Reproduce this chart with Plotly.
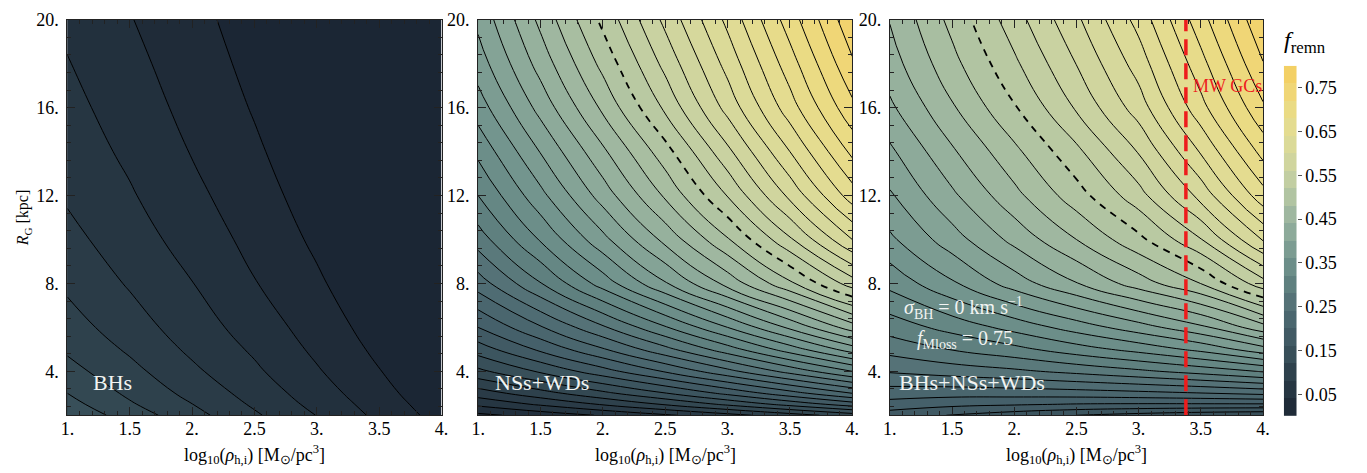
import numpy as np
import plotly.graph_objects as go

# Grid: initial half-mass density (log10, Msun/pc^3) and galactocentric radius (kpc)
LOG_RHO = [1.0, 1.5, 2.0, 2.5, 3.0, 3.5, 4.0]
R_GAL = [2, 2.5, 3, 4, 5, 6, 8, 10, 12, 14, 16, 18, 20]

# Remnant mass fraction held in black holes (rows follow R_GAL, columns LOG_RHO)
F_BH = [
    [0.155, 0.131, 0.107, 0.083, 0.0595, 0.035, 0.0121],
    [0.147, 0.1225, 0.1003, 0.077, 0.054, 0.031, 0.0083],
    [0.140, 0.116, 0.094, 0.072, 0.0495, 0.027, 0.0051],
    [0.127, 0.106, 0.084, 0.0635, 0.042, 0.0208, 0.002],
    [0.117, 0.097, 0.076, 0.057, 0.036, 0.0156, 0.002],
    [0.109, 0.089, 0.070, 0.051, 0.031, 0.0113, 0.002],
    [0.096, 0.078, 0.0605, 0.041, 0.023, 0.0043, 0.002],
    [0.086, 0.069, 0.052, 0.034, 0.0164, 0.002, 0.002],
    [0.0775, 0.062, 0.045, 0.028, 0.0111, 0.002, 0.002],
    [0.071, 0.056, 0.039, 0.023, 0.0065, 0.002, 0.002],
    [0.066, 0.0505, 0.034, 0.0185, 0.0027, 0.002, 0.002],
    [0.061, 0.0455, 0.030, 0.0145, 0.002, 0.002, 0.002],
    [0.056, 0.041, 0.026, 0.0110, 0.002, 0.002, 0.002],
]

# Remnant mass fraction held in neutron stars + white dwarfs
F_NSWD = [
    [0.035, 0.048, 0.062, 0.077, 0.093, 0.111, 0.130],
    [0.065, 0.083, 0.102, 0.122, 0.144, 0.167, 0.190],
    [0.090, 0.112, 0.135, 0.159, 0.185, 0.212, 0.240],
    [0.135, 0.163, 0.192, 0.222, 0.254, 0.287, 0.320],
    [0.170, 0.204, 0.238, 0.274, 0.311, 0.350, 0.390],
    [0.200, 0.238, 0.277, 0.318, 0.360, 0.404, 0.450],
    [0.250, 0.299, 0.349, 0.398, 0.447, 0.496, 0.550],
    [0.290, 0.342, 0.394, 0.446, 0.498, 0.557, 0.620],
    [0.320, 0.374, 0.429, 0.483, 0.541, 0.605, 0.670],
    [0.345, 0.401, 0.456, 0.512, 0.575, 0.640, 0.705],
    [0.370, 0.427, 0.484, 0.544, 0.607, 0.671, 0.735],
    [0.390, 0.448, 0.506, 0.566, 0.627, 0.691, 0.757],
    [0.405, 0.465, 0.525, 0.585, 0.645, 0.710, 0.775],
]

# All remnants together
F_ALL = (np.array(F_BH) + np.array(F_NSWD)).round(4).tolist()

LEVEL_STEP = 0.02
LEVEL_DASHED = 0.52
MW_GC_LOG_RHO = 3.38

X_TICKS = [1, 1.5, 2, 2.5, 3, 3.5, 4]
X_TICK_TEXT = ["1.", "1.5", "2.", "2.5", "3.", "3.5", "4."]
Y_TICKS = [4, 8, 12, 16, 20]
Y_TICK_TEXT = ["4.", "8.", "12.", "16.", "20."]
CBAR_TICKS = [0.05, 0.15, 0.25, 0.35, 0.45, 0.55, 0.65, 0.75]
CBAR_TICK_TEXT = ["0.05", "0.15", "0.25", "0.35", "0.45", "0.55", "0.65", "0.75"]
CBAR_BANDS = [0.02, 0.06, 0.10, 0.14, 0.18, 0.22, 0.26, 0.30, 0.34, 0.38,
              0.42, 0.46, 0.50, 0.54, 0.58, 0.62, 0.66, 0.70, 0.74, 0.78]

CSCALE = [
    [0.0, "#1b2634"], [0.0625, "#24333f"], [0.125, "#2e414c"],
    [0.1875, "#3a525c"], [0.25, "#45606a"], [0.3125, "#526f75"],
    [0.375, "#5f807f"], [0.4375, "#6f918c"], [0.5, "#84a396"],
    [0.5625, "#9ab49f"], [0.625, "#b1c4a2"], [0.6875, "#c6d0a2"],
    [0.75, "#d6d89c"], [0.8125, "#e2dc93"], [0.875, "#eadb84"],
    [0.9375, "#f1d572"], [1.0, "#f4cd5c"],
]

FONT = "Liberation Serif"
W, H = 1367, 473

# panel placement in pixels: (left, right)
PANELS_PX = [(61, 439), (476, 854), (892, 1269)]
TOP_PX, BOTTOM_PX = 10, 414

fig = go.Figure()


def fill_trace(z, ax):
    return go.Contour(
        x=LOG_RHO, y=R_GAL, z=z, xaxis="x" + ax, yaxis="y" + ax,
        colorscale=CSCALE, showscale=False, autocontour=False,
        contours=dict(start=LEVEL_STEP, end=0.80, size=LEVEL_STEP,
                      coloring="fill", showlines=False),
        line=dict(width=0, smoothing=1.3), hoverinfo="skip",
    )


def line_trace(z, ax, start, end, dash="solid", width=1.0):
    return go.Contour(
        x=LOG_RHO, y=R_GAL, z=z, xaxis="x" + ax, yaxis="y" + ax,
        showscale=False, autocontour=False,
        contours=dict(start=start, end=end, size=LEVEL_STEP, coloring="none"),
        line=dict(color="black", width=width, dash=dash, smoothing=1.3),
        hoverinfo="skip",
    )


# Panel 1: black holes
fig.add_trace(fill_trace(F_BH, ""))
fig.add_trace(line_trace(F_BH, "", 0.02, 0.14))

# Panels 2 and 3: solid levels, with the 0.52 level drawn dashed
for z, ax in [(F_NSWD, "2"), (F_ALL, "3")]:
    fig.add_trace(fill_trace(z, ax))
    fig.add_trace(line_trace(z, ax, 0.02, 0.50))
    fig.add_trace(line_trace(z, ax, 0.54, 0.78))
    fig.add_trace(line_trace(z, ax, LEVEL_DASHED, LEVEL_DASHED,
                             dash="7px,6px", width=1.8))

# Discrete colour bar drawn as a one-column heatmap
fig.add_trace(go.Heatmap(
    x=[0], y=CBAR_BANDS, z=[[b] for b in CBAR_BANDS],
    colorscale=CSCALE, zmin=0, zmax=0.8, showscale=False,
    xaxis="x4", yaxis="y4", hoverinfo="skip",
))

axis_common = dict(
    showline=True, linecolor="#222", linewidth=1, mirror="allticks",
    ticks="inside", ticklen=8, tickwidth=1, tickcolor="#222",
    showgrid=False, zeroline=False,
    tickfont=dict(family=FONT, size=18, color="black"),
)

layout = dict(
    width=W, height=H, margin=dict(l=0, r=0, t=0, b=0),
    paper_bgcolor="white", plot_bgcolor="white", showlegend=False,
    font=dict(family=FONT, color="black"),
)

ydom = [1 - BOTTOM_PX / H, 1 - TOP_PX / H]
for i, (l, r) in enumerate(PANELS_PX):
    sfx = "" if i == 0 else str(i + 1)
    layout["xaxis" + sfx] = dict(
        axis_common, domain=[l / W, r / W], range=[1, 4],
        tickvals=X_TICKS, ticktext=X_TICK_TEXT, ticklabelstandoff=-3,
        minor=dict(dtick=0.1, tick0=0, ticklen=4, ticks="inside",
                   tickcolor="#222"),
        anchor="y" + sfx,
    )
    layout["yaxis" + sfx] = dict(
        axis_common, domain=ydom, range=[2, 20],
        tickvals=Y_TICKS, ticktext=Y_TICK_TEXT, ticklabelstandoff=4,
        minor=dict(dtick=0.8, tick0=0, ticklen=4, ticks="inside",
                   tickcolor="#222"),
        anchor="x" + sfx,
    )

layout["xaxis4"] = dict(domain=[1290 / W, 1303 / W], range=[-0.5, 0.5],
                        visible=False, anchor="y4")
layout["yaxis4"] = dict(
    domain=[1 - 415 / H, 1 - 57 / H], range=[0, 0.8], anchor="x4",
    side="right", showgrid=False, zeroline=False, showline=False,
    ticks="outside", ticklen=4, tickcolor="#555",
    tickvals=CBAR_TICKS, ticktext=CBAR_TICK_TEXT,
    tickfont=dict(family=FONT, size=18, color="black"),
)

fig.update_layout(**layout)

# Milky Way globular cluster density marker
fig.add_shape(type="line", xref="x3", yref="y3",
              x0=MW_GC_LOG_RHO, x1=MW_GC_LOG_RHO, y0=2, y1=20,
              line=dict(color="#ee1c1c", width=3.5, dash="16px,8px"))

label_font = dict(family=FONT, size=22, color="#f2f4f2")
note_font = dict(family=FONT, size=20, color="#f2f4f2")
xtitle = "log<sub>10</sub>(<i>ρ</i><sub>h,i</sub>) [M<sub>⊙</sub>/pc<sup>3</sup>]"

annotations = [
    dict(x=1.19, y=3.5, xref="x", yref="y", text="BHs", showarrow=False,
         xanchor="left", yanchor="middle", font=label_font),
    dict(x=1.12, y=3.5, xref="x2", yref="y2", text="NSs+WDs",
         showarrow=False, xanchor="left", yanchor="middle", font=label_font),
    dict(x=1.06, y=3.5, xref="x3", yref="y3", text="BHs+NSs+WDs",
         showarrow=False, xanchor="left", yanchor="middle", font=label_font),
    dict(x=1.1, y=6.9, xref="x3", yref="y3",
         text="<i>σ</i><sub>BH</sub> = 0 km s<sup>−1</sup>", showarrow=False,
         xanchor="left", yanchor="middle", font=note_font),
    dict(x=1.2, y=5.45, xref="x3", yref="y3",
         text="<i>f</i><sub>Mloss</sub> = 0.75", showarrow=False,
         xanchor="left", yanchor="middle", font=note_font),
    dict(x=3.42, y=17.0, xref="x3", yref="y3", text="MW GCs",
         showarrow=False, xanchor="left", yanchor="middle",
         font=dict(family=FONT, size=18, color="#ee1c1c")),
    dict(x=17 / W, y=1 - 212 / H, xref="paper", yref="paper",
         text="<i>R</i><sub>G</sub> [kpc]", textangle=-90, showarrow=False,
         xanchor="center", yanchor="middle",
         font=dict(family=FONT, size=16, color="black")),
    dict(x=1288 / W, y=1 - 33 / H, xref="paper", yref="paper",
         text="<i>f</i><sub>remn</sub>", showarrow=False,
         xanchor="left", yanchor="middle",
         font=dict(family=FONT, size=24, color="black")),
]
for l, r in PANELS_PX:
    annotations.append(dict(
        x=(l + r) / 2 / W, y=1 - 454 / H, xref="paper", yref="paper",
        text=xtitle, showarrow=False, xanchor="center", yanchor="middle",
        font=dict(family=FONT, size=18, color="black")))

fig.update_layout(annotations=annotations)

fig.write_html("out.html")
